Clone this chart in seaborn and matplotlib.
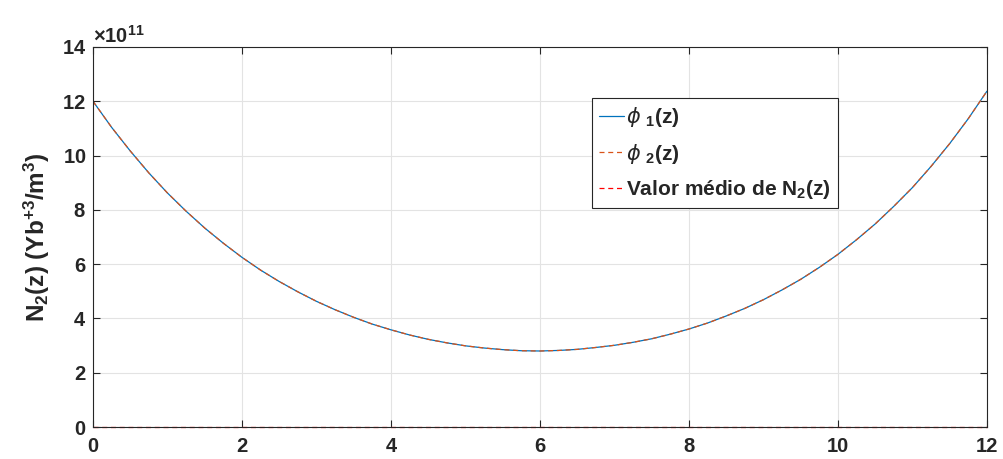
import matplotlib.pyplot as plt
import matplotlib.ticker as mticker
import seaborn as sns

# posições ao longo da fibra (m)
z = [0.0, 0.25, 0.5, 0.75, 1.0, 1.25, 1.5, 1.75, 2.0, 2.25, 2.5, 2.75, 3.0,
     3.25, 3.5, 3.75, 4.0, 4.25, 4.5, 4.75, 5.0, 5.25, 5.5, 5.75, 6.0,
     6.25, 6.5, 6.75, 7.0, 7.25, 7.5, 7.75, 8.0, 8.25, 8.5, 8.75, 9.0,
     9.25, 9.5, 9.75, 10.0, 10.25, 10.5, 10.75, 11.0, 11.25, 11.5, 11.75, 12.0]

# N2(z), em unidades de 1e11
phi1 = [12.00, 11.04, 10.17, 9.36, 8.62, 7.95, 7.33, 6.77, 6.25, 5.78, 5.36, 4.98, 4.63,
        4.32, 4.04, 3.79, 3.58, 3.39, 3.23, 3.10, 2.99, 2.91, 2.85, 2.81, 2.80,
        2.82, 2.86, 2.93, 3.01, 3.12, 3.25, 3.42, 3.61, 3.83, 4.09, 4.37, 4.69,
        5.05, 5.44, 5.88, 6.36, 6.90, 7.48, 8.13, 8.82, 9.60, 10.44, 11.36, 12.37]
phi2 = list(phi1)

# valor médio (desenhado em zero na figura original)
z_media = [0.0, 12.0]
n2_media = [0.0, 0.0]

escala = 1e11
phi1 = [v * escala for v in phi1]
phi2 = [v * escala for v in phi2]

sns.set_style("ticks")
plt.rcParams["font.family"] = ["Liberation Sans", "DejaVu Sans"]
plt.rcParams["font.weight"] = "bold"
plt.rcParams["mathtext.fontset"] = "custom"
plt.rcParams["mathtext.rm"] = "Liberation Sans:bold"
plt.rcParams["mathtext.bf"] = "Liberation Sans:bold"
plt.rcParams["mathtext.it"] = "DejaVu Sans:style=italic:weight=normal"
plt.rcParams["mathtext.default"] = "bf"

cor_texto = "#262626"

fig = plt.figure(figsize=(10.04, 4.59), dpi=100)
ax = fig.add_axes([0.0926, 0.0697, 0.8904, 0.828])

sns.lineplot(x=z, y=phi1, ax=ax, color="#0072BD", lw=0.9, label=r"$\mathit{\phi}$ $_1$(z)")
sns.lineplot(x=z, y=phi2, ax=ax, color="#D95319", lw=0.9, label=r"$\mathit{\phi}$ $_2$(z)")
ax.lines[-1].set_dashes((4, 3))
sns.lineplot(x=z_media, y=n2_media, ax=ax, color="red", lw=0.9,
             label=r"Valor médio de N$_2$(z)")
ax.lines[-1].set_dashes((4, 3))
ax.lines[-1].set_clip_on(False)

ax.set_xlim(0, 12)
ax.set_ylim(0, 14e11)
ax.set_xticks(range(0, 13, 2))
ax.set_yticks([i * 1e11 for i in range(0, 15, 2)])

fmt = mticker.ScalarFormatter(useMathText=True)
fmt.set_powerlimits((11, 11))
ax.yaxis.set_major_formatter(fmt)
ax.yaxis.get_offset_text().set_fontsize(14.5)
ax.yaxis.get_offset_text().set_color(cor_texto)

ax.grid(True, color="#e3e3e3", lw=0.8)
ax.set_axisbelow(True)
ax.tick_params(direction="in", length=5, width=0.8, colors=cor_texto, labelsize=14.5,
               top=True, right=True)
ax.tick_params(axis="x", pad=7)
ax.tick_params(axis="y", pad=5)
for lab in ax.get_xticklabels() + ax.get_yticklabels():
    lab.set_fontweight("bold")
for s in ax.spines.values():
    s.set_color(cor_texto)
    s.set_linewidth(0.8)

ax.set_xlabel("")
ax.set_ylabel(r"N$_2$(z) (Yb$^{+3}$/m$^3$)", fontsize=17.5, fontweight="bold", color=cor_texto,
              labelpad=7)

leg = ax.legend(loc="upper left", bbox_to_anchor=(0.558, 0.866), fontsize=15,
                frameon=True, fancybox=False, framealpha=1, edgecolor="#262626",
                handlelength=1.2, handletextpad=0.1, borderpad=0.35, labelspacing=0.6,
                borderaxespad=0)
leg.get_frame().set_linewidth(0.8)

fig.savefig("out.png", dpi=100)
